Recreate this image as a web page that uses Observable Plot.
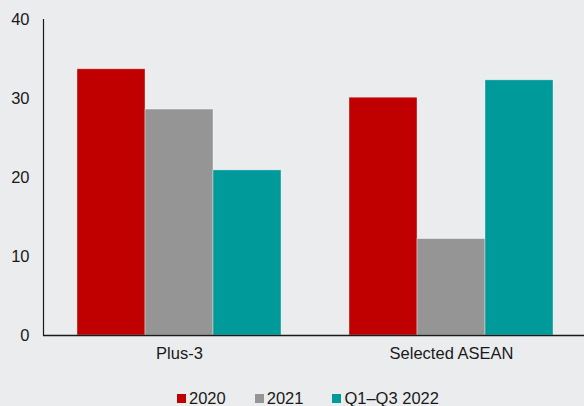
<!DOCTYPE html>
<html>
<head>
<meta charset="utf-8">
<script src="https://cdn.jsdelivr.net/npm/d3@7"></script>
<script src="https://cdn.jsdelivr.net/npm/@observablehq/plot@0.6"></script>
<style>
  html, body { margin: 0; padding: 0; background: #ebecee; }
  body { width: 584px; height: 406px; overflow: hidden; font-family: "Liberation Sans", Arial, sans-serif; color: #1a1a1a; }
  #legend { display: flex; align-items: center; margin-left: 177px; margin-top: 11px; height: 24px; font-size: 16.5px; }
  .item { display: flex; align-items: center; margin-right: 29px; }
  .sw { width: 9px; height: 9px; margin-right: 3px; margin-top: 1px; }
</style>
</head>
<body>
<div id="chart"></div>
<div id="legend"></div>
<script>
const groups = ["Plus-3", "Selected ASEAN"];
const series = ["2020", "2021", "Q1–Q3 2022"];
const colors = ["#c00000", "#959595", "#009a9a"];
const plus3 = [33.7, 28.6, 20.9];
const asean = [30.1, 12.2, 32.3];
const yTicks = [0, 10, 20, 30, 40];

const values = [plus3, asean];
const data = [];
groups.forEach((g, gi) => series.forEach((s, si) => data.push({group: g, series: s, key: g + "|" + s, value: values[gi][si]})));
const domain = [...series.map(s => groups[0] + "|" + s), "gap", ...series.map(s => groups[1] + "|" + s)];
const middle = new Map(groups.map(g => [g + "|" + series[1], g]));

const chart = Plot.plot({
  width: 584,
  height: 375,
  marginTop: 19,
  marginBottom: 40,
  marginLeft: 43,
  marginRight: 0,
  style: {background: "transparent", fontSize: "16px", fontFamily: "Liberation Sans, Arial, sans-serif", color: "#1a1a1a"},
  x: {domain, padding: 0, paddingOuter: 0.44, align: 0.52, axis: null},
  y: {domain: [0, 40], axis: null},
  color: {domain: series, range: colors},
  marks: [
    Plot.barY(data, {x: "key", y: "value", fill: "series", stroke: "#ffffff", strokeOpacity: 0.45, strokeWidth: 0.8}),
    Plot.axisY(yTicks, {tickSize: 0, tickPadding: 14, label: null, fill: "#1a1a1a", fontSize: 16.5}),
    Plot.axisX(domain.filter(d => middle.has(d)), {tickSize: 0, tickPadding: 12, label: null, tickFormat: d => middle.get(d), fill: "#1a1a1a", fontSize: 16.5}),
    Plot.ruleY([0], {stroke: "#1a1a1a", strokeWidth: 1.5}),
    Plot.frame({anchor: "left", stroke: "#1a1a1a", strokeWidth: 1.2})
  ]
});
document.getElementById("chart").appendChild(chart);

const legend = document.getElementById("legend");
series.forEach((s, i) => {
  const item = document.createElement("div");
  item.className = "item";
  const sw = document.createElement("span");
  sw.className = "sw";
  sw.style.background = colors[i];
  const t = document.createElement("span");
  t.textContent = s;
  item.appendChild(sw);
  item.appendChild(t);
  legend.appendChild(item);
});
</script>
</body>
</html>
